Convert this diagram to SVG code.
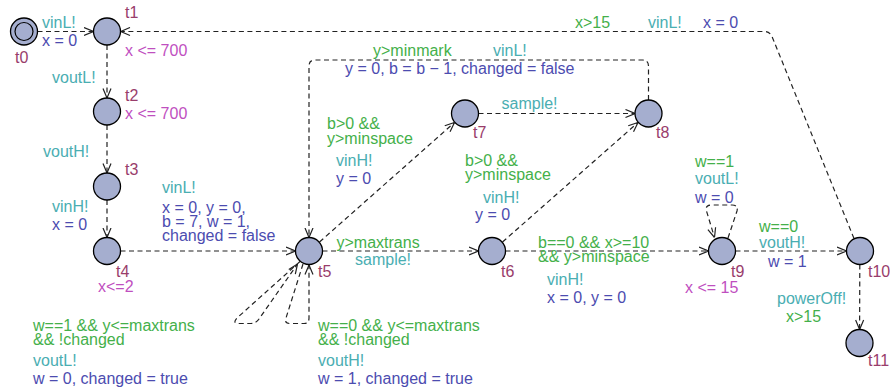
<svg xmlns="http://www.w3.org/2000/svg" width="890" height="391" viewBox="0 0 890 391">
<style>
text{font-family:"Liberation Sans",Arial,Helvetica,sans-serif;font-size:16px}
.n{fill:#993d6b}
.i{fill:#bf4fbf}
.g{fill:#44b04a}
.s{fill:#4aaeb2}
.a{fill:#4c4cb0}
.loc{fill:#a5aecf;stroke:#000;stroke-width:1.3}
.e{fill:none;stroke:#222;stroke-width:1.2;stroke-dasharray:5 3.5}
.ea{marker-end:url(#arr)}
</style>
<defs>
<marker id="arr" viewBox="0 0 10 10" refX="10" refY="5" markerWidth="10" markerHeight="10" orient="auto" markerUnits="userSpaceOnUse">
<path d="M0.5,1 L10,5 L0.5,9" fill="none" stroke="#222" stroke-width="1.2"/>
</marker>
</defs>
<rect width="890" height="391" fill="#fff"/>
<g id="connectors">
<path class="e ea" d="M37.5,31.5 L93.5,31.5"/>
<path class="e ea" d="M107,45 L107,98"/>
<path class="e ea" d="M107,125 L107,173"/>
<path class="e ea" d="M107,200 L107,237.5"/>
<path class="e ea" d="M120.5,251 L295.5,251"/>
<path class="e ea" d="M322.5,251 L478.5,251"/>
<path class="e ea" d="M505.5,251 L708.5,251"/>
<path class="e ea" d="M735.5,251 L846.5,251"/>
<path class="e ea" d="M859.8,264.5 L859.6,329.5"/>
<path class="e ea" d="M854,238.5 L772,36.5 Q769.5,31.5 764,31.5 L120.5,31.5"/>
<path class="e ea" d="M478.5,113.5 L635,113.5"/>
<path class="e ea" d="M319.5,242 L454.5,122.5"/>
<path class="e ea" d="M502.5,242 L638,122.5"/>
<path class="e ea" d="M648.5,100 L648.5,66 Q648.5,60 642.5,60 L315,60 Q309,60 309,66 L309,237.5"/>
<path class="e ea" d="M728,238 L737,211 Q738.5,205 732,205 L711,205 Q705,205 706.5,211 L714.5,237.5"/>
<path class="e ea" d="M300,261.5 L237,318 Q232,323.5 239,323.5 L251,323.5 Q256,323.5 259,319 L297.5,264"/>
<path class="e ea" d="M303,264 L286,318 Q284,323.5 290,323.5 L304,323.5 Q309,323.5 309,318 L309,265"/>
</g>
<g id="t0"><circle class="loc" cx="24" cy="31.5" r="13.5"/><circle cx="24" cy="31.5" r="9" fill="none" stroke="#000" stroke-width="1.2"/><text class="n" x="15" y="63">t0</text></g>
<g id="t1"><circle class="loc" cx="107" cy="31.5" r="13.5"/><text class="n" x="125" y="18">t1</text><text class="i" x="125" y="56">x &lt;= 700</text></g>
<g id="t2"><circle class="loc" cx="107" cy="111.5" r="13.5"/><text class="n" x="125" y="101">t2</text><text class="i" x="125" y="119">x &lt;= 700</text></g>
<g id="t3"><circle class="loc" cx="107" cy="186.5" r="13.5"/><text class="n" x="125" y="175">t3</text></g>
<g id="t4"><circle class="loc" cx="107" cy="251" r="13.5"/><text class="n" x="116" y="277">t4</text><text class="i" x="98" y="292">x&lt;=2</text></g>
<g id="t5"><circle class="loc" cx="309" cy="251" r="13.5"/><text class="n" x="318" y="277">t5</text></g>
<g id="t6"><circle class="loc" cx="492" cy="251" r="13.5"/><text class="n" x="501" y="277">t6</text></g>
<g id="t7"><circle class="loc" cx="465" cy="113.5" r="13.5"/><text class="n" x="473" y="138">t7</text></g>
<g id="t8"><circle class="loc" cx="648.5" cy="113.5" r="13.5"/><text class="n" x="656" y="138">t8</text></g>
<g id="t9"><circle class="loc" cx="722" cy="251" r="13.5"/><text class="n" x="731" y="277">t9</text><text class="i" x="685" y="293">x &lt;= 15</text></g>
<g id="t10"><circle class="loc" cx="860" cy="251" r="13.5"/><text class="n" x="868" y="277">t10</text></g>
<g id="t11"><circle class="loc" cx="859.5" cy="343" r="13.5"/><text class="n" x="868" y="366">t11</text></g>
<g id="labels">
<text class="s" x="42" y="28">vinL!</text>
<text class="a" x="42" y="46">x = 0</text>
<text class="s" x="52" y="83">voutL!</text>
<text class="s" x="43" y="157">voutH!</text>
<text class="s" x="52" y="212">vinH!</text>
<text class="a" x="52" y="230">x = 0</text>
<text class="s" x="162" y="193">vinL!</text>
<text class="a" x="162" y="212.5">x = 0, y = 0,</text>
<text class="a" x="162" y="226.5">b = 7, w = 1,</text>
<text class="a" x="162" y="240.5">changed = false</text>
<text class="g" x="336.5" y="248">y&gt;maxtrans</text>
<text class="s" x="355" y="265">sample!</text>
<text class="g" x="327" y="129">b&gt;0 &amp;&amp;</text>
<text class="g" x="327" y="144">y&gt;minspace</text>
<text class="s" x="336" y="166">vinH!</text>
<text class="a" x="336" y="184">y = 0</text>
<text class="g" x="465" y="165.5">b&gt;0 &amp;&amp;</text>
<text class="g" x="465" y="180">y&gt;minspace</text>
<text class="s" x="483" y="202.5">vinH!</text>
<text class="a" x="475" y="220">y = 0</text>
<text class="s" x="501.5" y="109">sample!</text>
<text class="g" x="373" y="56">y&gt;minmark</text>
<text class="s" x="493" y="56">vinL!</text>
<text class="a" x="345" y="74">y = 0, b = b − 1, changed = false</text>
<text class="g" x="538" y="248">b==0 &amp;&amp; x&gt;=10</text>
<text class="g" x="538" y="262">&amp;&amp; y&gt;minspace</text>
<text class="s" x="547" y="285">vinH!</text>
<text class="a" x="547" y="303">x = 0, y = 0</text>
<text class="g" x="695" y="166.5">w==1</text>
<text class="s" x="695" y="184">voutL!</text>
<text class="a" x="695" y="202.5">w = 0</text>
<text class="g" x="759" y="231.5">w==0</text>
<text class="s" x="759" y="248">voutH!</text>
<text class="a" x="768" y="266.5">w = 1</text>
<text class="s" x="777" y="304">powerOff!</text>
<text class="g" x="786" y="321.5">x&gt;15</text>
<text class="g" x="575" y="28">x&gt;15</text>
<text class="s" x="648" y="28">vinL!</text>
<text class="a" x="703" y="28">x = 0</text>
<text class="g" x="33" y="330.5">w==1 &amp;&amp; y&lt;=maxtrans</text>
<text class="g" x="33" y="345">&amp;&amp; !changed</text>
<text class="s" x="33" y="366">voutL!</text>
<text class="a" x="33" y="384">w = 0, changed = true</text>
<text class="g" x="318" y="330.5">w==0 &amp;&amp; y&lt;=maxtrans</text>
<text class="g" x="318" y="345">&amp;&amp; !changed</text>
<text class="s" x="318" y="366">voutH!</text>
<text class="a" x="318" y="384">w = 1, changed = true</text>
</g>
</svg>
